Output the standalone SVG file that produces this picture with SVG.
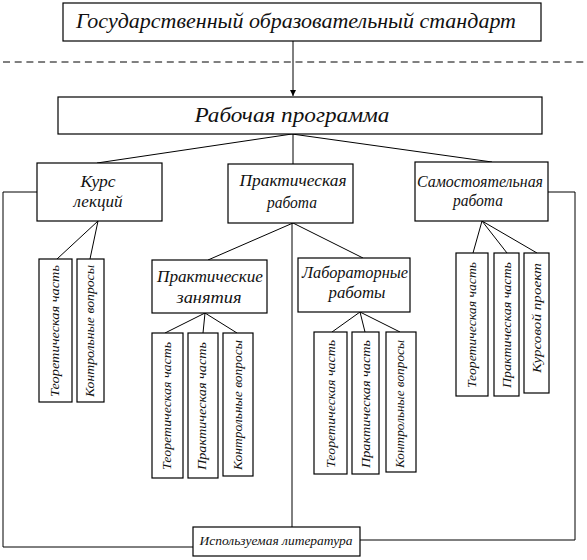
<svg xmlns="http://www.w3.org/2000/svg" width="587" height="560" viewBox="0 0 587 560">
<defs>
<style>
rect{fill:#fff;stroke:#000;stroke-width:1.2}
.c line,.c polyline{stroke:#000;stroke-width:1;fill:none}
text{font-family:'Liberation Serif','DejaVu Serif',serif;font-style:italic;fill:#111;text-anchor:middle}
.big{font-size:22px}
.mid{font-size:16px}
.sm{font-size:13px}
.lit{font-size:12px}
</style>
<marker id="ah" markerWidth="8" markerHeight="8" refX="6" refY="3" orient="auto" markerUnits="userSpaceOnUse">
<path d="M0,0 L6,3 L0,6 z" fill="#000"/>
</marker>
</defs>
<rect x="0" y="0" width="587" height="560" style="fill:#fff;stroke:none"/>
<line x1="3" y1="62" x2="587" y2="62" stroke="#000" stroke-width="1" stroke-dasharray="7 4.7"/>
<g class="c" id="connectors">
<line x1="293" y1="41" x2="293" y2="96" marker-end="url(#ah)"/>
<line x1="292" y1="134" x2="97" y2="163"/>
<line x1="293" y1="134" x2="293" y2="164"/>
<line x1="292" y1="134" x2="492" y2="162"/>
<polyline points="37,192 3,192 3,547 193,547"/>
<polyline points="548,192 575,192 575,540 360,540"/>
<line x1="292" y1="223" x2="292" y2="527"/>
<line x1="98" y1="221" x2="57" y2="259"/>
<line x1="98" y1="221" x2="90" y2="259"/>
<line x1="293" y1="223" x2="208" y2="260"/>
<line x1="293" y1="223" x2="363" y2="258"/>
<line x1="205" y1="313" x2="165" y2="333"/>
<line x1="205" y1="313" x2="203" y2="333"/>
<line x1="205" y1="313" x2="237" y2="333"/>
<line x1="360" y1="312" x2="332" y2="332"/>
<line x1="360" y1="312" x2="365" y2="332"/>
<line x1="360" y1="312" x2="400" y2="332"/>
<line x1="482" y1="221" x2="473" y2="253"/>
<line x1="482" y1="221" x2="507" y2="253"/>
<line x1="482" y1="221" x2="537" y2="253"/>
</g>
<g id="standard"><rect x="63" y="3" width="478" height="38"/><text class="big" x="296" y="28" textLength="440" lengthAdjust="spacingAndGlyphs">Государственный образовательный стандарт</text></g>
<g id="program"><rect x="58" y="97" width="484" height="37"/><text class="big" x="292" y="122" textLength="195" lengthAdjust="spacingAndGlyphs">Рабочая программа</text></g>
<g id="lectures"><rect x="37" y="163" width="125" height="58"/><text class="mid" x="98" y="187" textLength="35" lengthAdjust="spacingAndGlyphs">Курс</text><text class="mid" x="98" y="207" textLength="49" lengthAdjust="spacingAndGlyphs">лекций</text></g>
<g id="practical"><rect x="228" y="164" width="125" height="59"/><text class="mid" x="293" y="186" textLength="107" lengthAdjust="spacingAndGlyphs">Практическая</text><text class="mid" x="292" y="208" textLength="50" lengthAdjust="spacingAndGlyphs">работа</text></g>
<g id="independent"><rect x="415" y="162" width="133" height="59"/><text class="mid" x="480" y="187" textLength="126" lengthAdjust="spacingAndGlyphs">Самостоятельная</text><text class="mid" x="478" y="206" textLength="50" lengthAdjust="spacingAndGlyphs">работа</text></g>
<g id="lect-theory"><rect x="39" y="259" width="33" height="143"/><text class="sm" transform="translate(55,331) rotate(-90)" y="4" textLength="132" lengthAdjust="spacingAndGlyphs">Теоретическая часть</text></g>
<g id="lect-questions"><rect x="77" y="259" width="27" height="143"/><text class="sm" transform="translate(90,331) rotate(-90)" y="4" textLength="132" lengthAdjust="spacingAndGlyphs">Контрольные вопросы</text></g>
<g id="seminars"><rect x="152" y="260" width="115" height="53"/><text class="mid" x="210" y="282" textLength="106" lengthAdjust="spacingAndGlyphs">Практические</text><text class="mid" x="209" y="303" textLength="65" lengthAdjust="spacingAndGlyphs">занятия</text></g>
<g id="labs"><rect x="298" y="258" width="112" height="54"/><text class="mid" x="355" y="278" textLength="106" lengthAdjust="spacingAndGlyphs">Лабораторные</text><text class="mid" x="357" y="298" textLength="57" lengthAdjust="spacingAndGlyphs">работы</text></g>
<g id="sem-theory"><rect x="152" y="333" width="31" height="145"/><text class="sm" transform="translate(167,406) rotate(-90)" y="4" textLength="128" lengthAdjust="spacingAndGlyphs">Теоретическая часть</text></g>
<g id="sem-practice"><rect x="188" y="333" width="30" height="145"/><text class="sm" transform="translate(202,406) rotate(-90)" y="4" textLength="128" lengthAdjust="spacingAndGlyphs">Практическая часть</text></g>
<g id="sem-questions"><rect x="223" y="333" width="30" height="143"/><text class="sm" transform="translate(238,405) rotate(-90)" y="4" textLength="130" lengthAdjust="spacingAndGlyphs">Контрольные вопросы</text></g>
<g id="lab-theory"><rect x="314" y="332" width="33" height="142"/><text class="sm" transform="translate(331,404) rotate(-90)" y="4" textLength="128" lengthAdjust="spacingAndGlyphs">Теоретическая часть</text></g>
<g id="lab-practice"><rect x="352" y="332" width="27" height="142"/><text class="sm" transform="translate(366,404) rotate(-90)" y="4" textLength="128" lengthAdjust="spacingAndGlyphs">Практическая часть</text></g>
<g id="lab-questions"><rect x="386" y="332" width="30" height="140"/><text class="sm" transform="translate(400,404) rotate(-90)" y="4" textLength="128" lengthAdjust="spacingAndGlyphs">Контрольные вопросы</text></g>
<g id="ind-theory"><rect x="456" y="253" width="32" height="143"/><text class="sm" transform="translate(472,325) rotate(-90)" y="4" textLength="126" lengthAdjust="spacingAndGlyphs">Теоретическая часть</text></g>
<g id="ind-practice"><rect x="494" y="253" width="25" height="143"/><text class="sm" transform="translate(507,325) rotate(-90)" y="4" textLength="126" lengthAdjust="spacingAndGlyphs">Практическая часть</text></g>
<g id="ind-project"><rect x="524" y="253" width="25" height="140"/><text class="sm" transform="translate(537,318) rotate(-90)" y="4" textLength="110" lengthAdjust="spacingAndGlyphs">Курсовой проект</text></g>
<g id="literature"><rect x="193" y="527" width="167" height="29"/><text class="lit" x="276" y="545" textLength="153" lengthAdjust="spacingAndGlyphs">Используемая литература</text></g>
</svg>
